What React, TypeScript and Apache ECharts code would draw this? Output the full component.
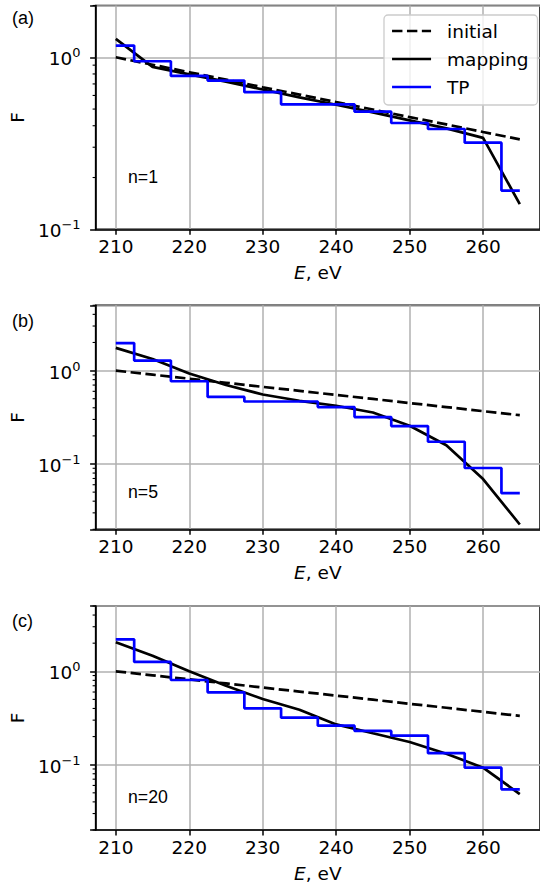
import React, { useEffect, useRef } from 'react';
import * as echarts from 'echarts';

// Photon energy grid (eV)
const energy = [210, 215, 220, 225, 230, 235, 240, 245, 250, 255, 260, 265];
// Initial spectrum (same in every panel)
const initialF = [1.0, 0.905, 0.819, 0.741, 0.67, 0.607, 0.549, 0.497, 0.449, 0.407, 0.368, 0.333];
// n = 1
const mappingN1 = [1.28, 0.88, 0.795, 0.722, 0.65, 0.585, 0.53, 0.478, 0.43, 0.386, 0.34, 0.14];
const tpN1 = [1.17, 0.948, 0.779, 0.732, 0.627, 0.533, 0.533, 0.483, 0.415, 0.383, 0.319, 0.168];
// n = 5
const mappingN5 = [1.75, 1.33, 0.93, 0.7, 0.555, 0.475, 0.42, 0.356, 0.257, 0.159, 0.069, 0.0225];
const tpN5 = [1.97, 1.28, 0.769, 0.523, 0.467, 0.467, 0.407, 0.318, 0.255, 0.173, 0.0906, 0.0487];
// n = 20
const mappingN20 = [2.05, 1.47, 1.0, 0.702, 0.505, 0.387, 0.27, 0.217, 0.175, 0.131, 0.093, 0.0485];
const tpN20 = [2.2, 1.26, 0.807, 0.596, 0.401, 0.319, 0.262, 0.23, 0.205, 0.133, 0.093, 0.0545];

// Axis settings
const xTicks = [210, 220, 230, 240, 250, 260];
const xMin = 207.25;
const xMax = 267.75;
const minorTicksA = [0.2, 0.3, 0.4, 0.5, 0.6, 0.7, 0.8, 0.9, 2];
const minorTicksBC = [0.02, 0.03, 0.04, 0.05, 0.06, 0.07, 0.08, 0.09, 0.2, 0.3, 0.4, 0.5, 0.6, 0.7, 0.8, 0.9, 2, 3, 4, 5];

const FONT = 'DejaVu Sans';
const NOTE_FONT = 'Liberation Sans';
const LW = 2.7;

const panels = [
  { mapping: mappingN1, tp: tpN1, yMin: 0.1, yMax: 2, minor: minorTicksA, tag: '(a)', note: 'n=1', top: 5.5, height: 223.8, tagY: 18, noteY: 176.7 },
  { mapping: mappingN5, tp: tpN5, yMin: 0.02, yMax: 5, minor: minorTicksBC, tag: '(b)', note: 'n=5', top: 305.3, height: 224, tagY: 321, noteY: 491.7 },
  { mapping: mappingN20, tp: tpN20, yMin: 0.02, yMax: 5, minor: minorTicksBC, tag: '(c)', note: 'n=20', top: 606, height: 224, tagY: 621, noteY: 797.3 },
];

const pairs = (ys: number[]) => energy.map((e, i) => [e, ys[i]]);

const yLabel = (v: number) => {
  const e = Math.round(Math.log10(v));
  if (Math.abs(Math.log10(v) - e) > 1e-6) return '';
  const exp = e < 0 ? '\u2212' + -e : String(e);
  return `{b|10}{s|${exp}}`;
};

const xLabel = (v: number) =>
  Math.abs(v / 10 - Math.round(v / 10)) < 1e-6 ? String(Math.round(v)) : '';

export default function App() {
  const ref = useRef<HTMLDivElement>(null);

  useEffect(() => {
    if (!ref.current) return;
    const chart = echarts.init(ref.current, undefined, { renderer: 'svg' });

    const grids: any[] = [];
    const xAxes: any[] = [];
    const yAxes: any[] = [];
    const series: any[] = [];
    const titles: any[] = [];

    panels.forEach((p, i) => {
      grids.push({
        left: 93,
        width: 453.5,
        top: p.top,
        height: p.height,
        show: true,
        borderColor: '#000',
        borderWidth: 1.5,
        backgroundColor: 'transparent',
      });
      xAxes.push({
        type: 'value',
        gridIndex: i,
        min: xMin,
        max: xMax,
        name: '{i|E}, eV',
        nameLocation: 'middle',
        nameGap: 34,
        nameTextStyle: {
          fontFamily: FONT,
          fontSize: 18.5,
          color: '#000',
          rich: { i: { fontFamily: FONT, fontSize: 18.5, fontStyle: 'italic', color: '#000' } },
        },
        axisLine: { show: true, onZero: false, lineStyle: { color: '#000', width: 1.5 } },
        axisTick: { show: true, length: 5.5, lineStyle: { color: '#000', width: 1.5 }, customValues: xTicks },
        axisLabel: {
          show: true,
          margin: 8,
          fontFamily: FONT,
          fontSize: 18.5,
          color: '#000',
          formatter: xLabel,
          customValues: xTicks,
        },
        splitLine: { show: true, lineStyle: { color: '#b0b0b0', width: 1.5 } },
      });
      yAxes.push({
        type: 'log',
        logBase: 10,
        gridIndex: i,
        min: p.yMin,
        max: p.yMax,
        name: 'F',
        nameLocation: 'middle',
        nameRotate: 90,
        nameGap: 60,
        nameTextStyle: { fontFamily: FONT, fontSize: 18.5, color: '#000' },
        axisLine: { show: true, lineStyle: { color: '#000', width: 1.5 } },
        axisTick: { show: true, length: 5.5, lineStyle: { color: '#000', width: 1.5 } },
        axisLabel: {
          show: true,
          margin: 15,
          formatter: yLabel,
          rich: {
            b: { fontFamily: FONT, fontSize: 18.5, color: '#000', lineHeight: 22, verticalAlign: 'bottom' },
            s: { fontFamily: FONT, fontSize: 13, color: '#000', lineHeight: 14, verticalAlign: 'top' },
          },
        },
        splitLine: { show: true, lineStyle: { color: '#b0b0b0', width: 1.5 } },
      });

      series.push({
        name: 'initial',
        type: 'line',
        xAxisIndex: i,
        yAxisIndex: i,
        data: pairs(initialF),
        symbol: 'none',
        lineStyle: { color: '#000', width: LW, type: [10.4, 4.5] },
        itemStyle: { color: '#000' },
      });
      series.push({
        name: 'mapping',
        type: 'line',
        xAxisIndex: i,
        yAxisIndex: i,
        data: pairs(p.mapping),
        symbol: 'none',
        lineStyle: { color: '#000', width: LW, type: 'solid' },
        itemStyle: { color: '#000' },
      });
      series.push({
        name: 'TP',
        type: 'line',
        step: 'middle',
        xAxisIndex: i,
        yAxisIndex: i,
        data: pairs(p.tp),
        symbol: 'none',
        lineStyle: { color: '#0000ff', width: LW, type: 'solid' },
        itemStyle: { color: '#0000ff' },
      });
      // log-axis minor ticks at 2..9 x 10^k
      series.push({
        type: 'custom',
        xAxisIndex: i,
        yAxisIndex: i,
        silent: true,
        clip: false,
        data: p.minor.map((v) => [xMin, v]),
        encode: { x: 0, y: 1 },
        renderItem: (_params: any, api: any) => {
          const pt = api.coord([api.value(0), api.value(1)]);
          return {
            type: 'line',
            shape: { x1: pt[0] - 3, y1: pt[1], x2: pt[0], y2: pt[1] },
            style: { stroke: '#000', lineWidth: 1.1 },
          };
        },
      });

      // panel tag and iteration count
      titles.push({
        text: p.tag,
        left: 12,
        top: p.tagY - 11,
        padding: 0,
        textStyle: { fontFamily: NOTE_FONT, fontSize: 18, fontWeight: 'normal', color: '#000', lineHeight: 22 },
      });
      titles.push({
        text: p.note,
        left: 128,
        top: p.noteY - 11,
        padding: 0,
        textStyle: { fontFamily: NOTE_FONT, fontSize: 17.7, fontWeight: 'normal', color: '#000', lineHeight: 22 },
      });
    });

    chart.setOption({
      animation: false,
      backgroundColor: '#fff',
      textStyle: { fontFamily: FONT },
      title: titles,
      grid: grids,
      xAxis: xAxes,
      yAxis: yAxes,
      series,
      legend: {
        data: ['initial', 'mapping', 'TP'],
        orient: 'vertical',
        left: 384,
        top: 15,
        itemWidth: 39,
        itemHeight: 14,
        itemGap: 8,
        padding: [6, 9, 8, 6.7],
        selectedMode: false,
        backgroundColor: 'rgba(255,255,255,0.8)',
        borderColor: '#cccccc',
        borderWidth: 1.3,
        borderRadius: 4,
        itemStyle: { opacity: 0 },
        lineStyle: { width: LW },
        textStyle: {
          fontFamily: FONT,
          fontSize: 18.5,
          color: '#000',
          lineHeight: 20,
          padding: [0, 0, 0, 11],
        },
      },
    });

    return () => chart.dispose();
  }, []);

  return (
    <div
      ref={ref}
      style={{ position: 'absolute', left: 0, top: 0, width: 540, height: 888, background: '#fff' }}
    />
  );
}
